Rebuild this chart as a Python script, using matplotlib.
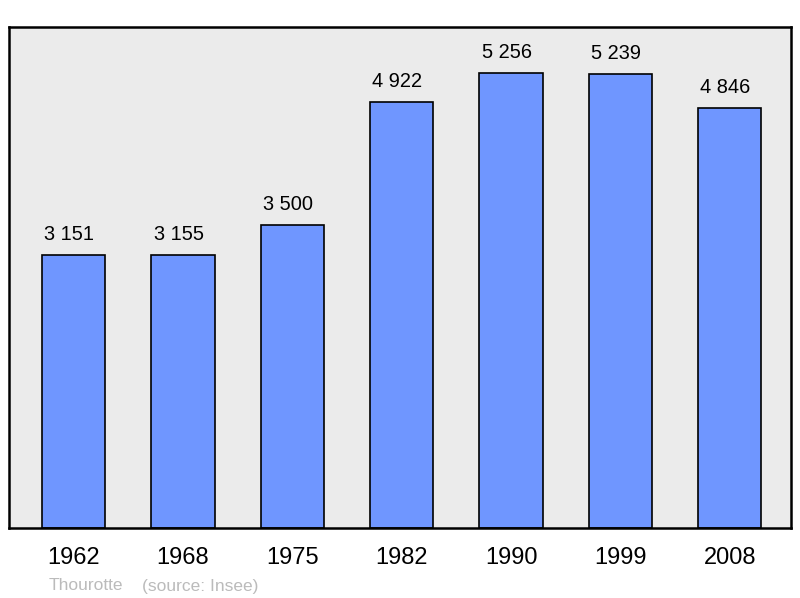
import numpy as np
import matplotlib.pyplot as plt

plt.rcParams['font.family'] = ['Liberation Sans', 'DejaVu Sans']

# data
years = ['1962', '1968', '1975', '1982', '1990', '1999', '2008']
population = [3151, 3155, 3500, 4922, 5256, 5239, 4846]
labels = ['3 151', '3 155', '3 500', '4 922', '5 256', '5 239', '4 846']

fig = plt.figure(figsize=(8, 5.98), dpi=100)
ax = fig.add_axes([9 / 800, 70 / 598, 782 / 800, 501 / 598])
ax.set_facecolor('#ebebeb')

x = np.arange(len(years))
ax.bar(x, population, width=0.58, color='#6f96ff', edgecolor='black', linewidth=1.2, zorder=2)
for xi, v, lab in zip(x, population, labels):
    ax.text(xi - 0.04, v + 130, lab, ha='center', va='bottom', fontsize=14.4)

ax.set_xlim(-0.59, 6.56)
ax.set_ylim(0, 5787)
ax.set_yticks([])
ax.set_xticks(x)
ax.set_xticklabels(years, fontsize=17)
ax.tick_params(axis='x', length=0, pad=14)
for s in ax.spines.values():
    s.set_linewidth(1.8)

fig.text(49 / 800, 1 - 586 / 598, 'Thourotte', color='#bbbbbb', fontsize=12.5, va='center')
fig.text(142 / 800, 1 - 586 / 598, '(source: Insee)', color='#bbbbbb', fontsize=12.5, va='center')

plt.savefig('out.png', dpi=100)
